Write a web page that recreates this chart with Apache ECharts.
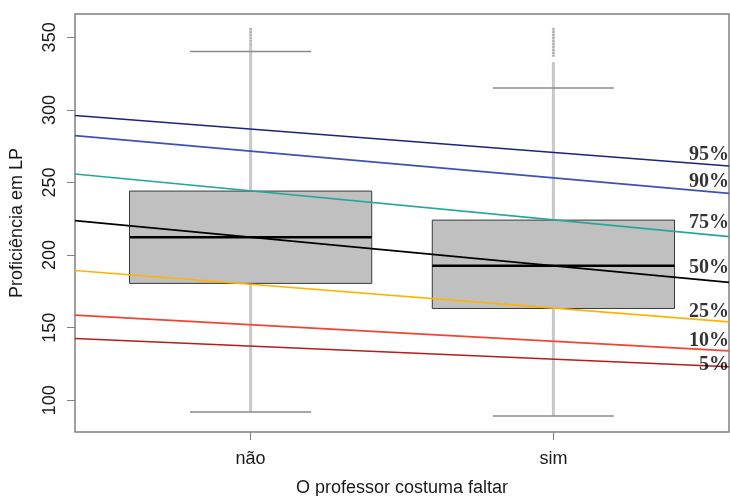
<!DOCTYPE html>
<html>
<head>
<meta charset="utf-8">
<script src="https://cdn.jsdelivr.net/npm/echarts@6/dist/echarts.min.js"></script>
<style>html,body{margin:0;padding:0;background:#fff}#c{width:730px;height:496px}</style>
</head>
<body>
<div id="c"></div>
<script>
// ---- data ----
const categories = ['não', 'sim'];
const catPos = [1, 2];
const boxQ1 = [180.5, 163.2];
const boxMedian = [212.2, 192.6];
const boxQ3 = [244.1, 224.1];
const whiskerLow = [91.9, 89.2];
const whiskerHigh = [340.2, 315.2];
const outlierSolidTop = [345.0, 333.0];
const outlierDottedFrom = [345.0, 336.8];
const outlierMax = [356.6, 356.6];

const quantileLabels = ['95%', '90%', '75%', '50%', '25%', '10%', '5%'];
const quantileNao = [286.8, 271.6, 244.3, 212.3, 179.9, 152.0, 137.3];
const quantileSim = [270.7, 253.2, 224.3, 192.6, 163.5, 140.6, 128.3];
const quantileLabelY = [269.0, 250.3, 222.1, 191.0, 160.7, 140.7, 124.1];
const quantileColors = ['#1a237e', '#3f51b5', '#26a69a', '#000000', '#ffb300', '#f44336', '#b71c1c'];

const yTicks = [100, 150, 200, 250, 300, 350];
const xMin = 0.42, xMax = 2.58;
const yMin = 78.1, yMax = 366.1;

const series = [];
const whiskerColor = '#c8c8c8';

categories.forEach((c, i) => {
  const x = catPos[i];
  series.push({type: 'line', z: 1, symbol: 'none', silent: true,
    data: [[x, whiskerLow[i]], [x, outlierSolidTop[i]]],
    lineStyle: {color: whiskerColor, width: 3}});
  series.push({type: 'line', z: 1, symbol: 'none', silent: true,
    data: [[x, outlierDottedFrom[i]], [x, outlierMax[i]]],
    lineStyle: {color: '#d4d4d4', width: 3}});
  series.push({type: 'line', z: 1, symbol: 'none', silent: true,
    data: [[x, outlierDottedFrom[i]], [x, outlierMax[i]]],
    lineStyle: {color: '#8c8c8c', width: 2, type: [1, 2]}});
  [whiskerLow[i], whiskerHigh[i]].forEach(v => {
    series.push({type: 'line', z: 2, symbol: 'none', silent: true,
      data: [[x - 0.2, v], [x + 0.2, v]],
      lineStyle: {color: '#8a8a8a', width: 1.5}});
  });
  series.push({type: 'line', z: 4, symbol: 'none', silent: true,
    data: [[x - 0.4, boxMedian[i]], [x + 0.4, boxMedian[i]]],
    lineStyle: {color: '#000', width: 2.5}});
});

series.push({
  type: 'custom', z: 3, silent: true,
  data: catPos.map((x, i) => [x, boxQ1[i], boxQ3[i]]),
  encode: {x: 0, y: [1, 2]},
  renderItem: function (params, api) {
    const x = api.value(0);
    const p1 = api.coord([x - 0.4, api.value(2)]);
    const p2 = api.coord([x + 0.4, api.value(1)]);
    return {type: 'rect',
      shape: {x: p1[0], y: p1[1], width: p2[0] - p1[0], height: p2[1] - p1[1]},
      style: {fill: '#c0c0c0', stroke: '#3a3a3a', lineWidth: 1}};
  }
});

quantileLabels.forEach((lab, k) => {
  const a = quantileNao[k], b = quantileSim[k];
  const f = x => a + (b - a) * (x - 1);
  series.push({type: 'line', z: 5, symbol: 'none', silent: true,
    data: [[xMin, f(xMin)], [xMax, f(xMax)]],
    lineStyle: {color: quantileColors[k], width: 1.6}});
});

series.push({
  type: 'scatter', z: 6, symbolSize: 0, silent: true, clip: false,
  data: quantileLabels.map((lab, k) => ({name: lab, value: [xMax, quantileLabelY[k]]})),
  label: {show: true, position: 'left', distance: 0, formatter: p => p.name,
    fontFamily: 'Liberation Serif', fontWeight: 'bold', fontSize: 20, color: '#000'}
});

const axisFont = {fontFamily: 'Liberation Sans, Arial', fontSize: 18, color: '#1a1a1a'};

const chart = echarts.init(document.getElementById('c'), null, {renderer: 'canvas'});
chart.setOption({
  animation: false,
  backgroundColor: '#fff',
  grid: {left: 75, right: 1, top: 14, bottom: 64, outerBoundsMode: 'none', containLabel: false,
    show: true, borderColor: '#808080', borderWidth: 1.5, backgroundColor: 'transparent'},
  xAxis: {
    type: 'value', min: xMin, max: xMax,
    name: 'O professor costuma faltar', nameLocation: 'middle', nameGap: 47,
    nameTextStyle: axisFont,
    axisLine: {show: false},
    splitLine: {show: false},
    axisTick: {show: true, length: 8, lineStyle: {color: '#808080'}, customValues: catPos},
    axisLabel: Object.assign({margin: 18, customValues: catPos,
      formatter: v => categories[catPos.indexOf(Math.round(v))] || ''}, axisFont)
  },
  yAxis: {
    type: 'value', min: yMin, max: yMax,
    name: 'Proficiência em LP', nameLocation: 'middle', nameGap: 49, nameRotate: 90,
    nameTextStyle: axisFont,
    axisLine: {show: false},
    splitLine: {show: false},
    axisTick: {show: true, length: 8, lineStyle: {color: '#808080'}, customValues: yTicks},
    axisLabel: Object.assign({margin: 16, rotate: 90, customValues: yTicks}, axisFont)
  },
  series: series
});
</script>
</body>
</html>
